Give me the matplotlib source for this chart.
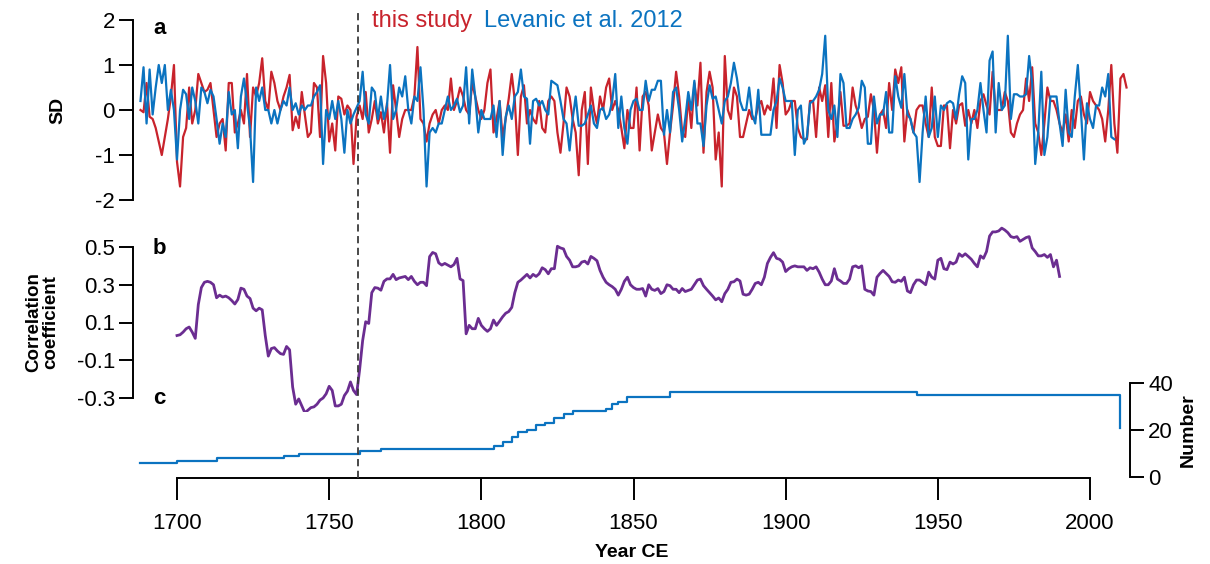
import numpy as np
import matplotlib
matplotlib.use("Agg")
import matplotlib.pyplot as plt

plt.rcParams['font.family'] = ['Liberation Sans', 'DejaVu Sans']
plt.rcParams['axes.unicode_minus'] = False

# ---------------- data ----------------
red_start = 1688
red_sd = [  # this study, 1688-2012
    0.0, -0.05, 0.6, -0.15, -0.2, -0.4, -0.7, -1.0, -0.6, -0.2, 0.3, 1.0,          # 1688-1699
    -1.15, -1.7, -0.6, -0.4, 0.5, -0.3, 0.0, 0.8, 0.6, 0.4,                         # 1700-1709
    0.45, 0.6, 0.0, -0.6, -0.3, -0.2, -0.9, 0.6, 0.6, -0.5,                          # 1710-1719
    -0.3, 0.0, -0.3, 0.8, -0.6, 0.5, 0.3, 0.6, 1.15, 0.2,                            # 1720-1729
    0.0, 0.85, 0.6, 0.2, 0.0, 0.3, 0.5, 0.78, -0.45, -0.15,                          # 1730-1739
    -0.4, 0.4, -0.1, -0.6, -0.5, 0.6, 0.5, -0.6, 1.2, 0.6,                           # 1740-1749
    -0.7, -0.3, -0.9, 0.3, 0.25, -0.1, 0.1, 0.0, -1.2, -0.15,                        # 1750-1759
    0.1, -0.2, 0.4, -0.5, -0.2, 0.2, -0.3, -0.05, -0.5, 0.15,                        # 1760-1769
    -0.95, 0.55, 0.0, -0.6, -0.2, 0.0, 0.0, 0.0, 0.3, 1.4,                           # 1770-1779
    -0.2, -0.3, -0.7, -0.3, -0.1, 0.0, -0.3, 0.0, 0.1, 0.0,                          # 1780-1789
    0.7, 0.0, 0.2, 0.5, 0.3, 0.0, -0.1, 0.6, 0.3, 0.0,                               # 1790-1799
    -0.2, 0.0, 0.6, 0.9, -0.5, -0.2, 0.2, -0.6, -0.2, 0.25,                          # 1800-1809
    0.8, 0.2, -1.0, 0.3, 0.55, -0.3, 0.0, -0.2, -0.3, 0.2,                           # 1810-1819
    -0.4, -0.5, 0.2, 0.3, 0.2, -0.5, -0.95, -0.3, 0.5, 0.3,                          # 1820-1829
    -0.2, -0.5, -1.45, 0.0, 0.4, -1.2, 0.5, 0.0, -0.3, 0.3,                          # 1830-1839
    0.0, 0.5, 0.7, 0.0, 0.2, 0.0, -0.4, -0.85, 0.0, -0.4,                            # 1840-1849
    -0.4, 0.5, -0.9, 0.3, 0.4, 0.1, -0.9, -0.5, -0.1, -0.4,                          # 1850-1859
    -0.5, -1.2, -0.5, 0.1, 0.85, 0.3, -0.5, -0.6, 0.3, -0.4,                         # 1860-1869
    0.6, 0.1, 1.05, -0.95, 0.4, 0.85, 0.5, -1.1, -0.5, -1.7,                         # 1870-1879
    1.2, 0.0, -0.2, 0.5, 0.3, -0.6, -0.6, -0.3, 0.0, -0.2,                           # 1880-1889
    -0.2, 0.1, 0.2, -0.1, 0.1, 0.0, 0.7, -0.4, 1.0, 0.6,                             # 1890-1899
    -0.1, 0.0, 0.2, 0.2, -0.4, -0.6, -0.65, -0.65, 0.2, 0.2,                         # 1900-1909
    -0.6, 0.5, 0.2, 0.55, -0.6, 0.6, -0.7, -0.3, 0.4, -0.35,                         # 1910-1919
    -0.35, -0.3, 0.5, 0.1, -0.1, -0.4, -0.2, -0.15, 0.35, 0.0,                       # 1920-1929
    -0.95, -0.1, 0.0, -0.4, 0.6, 0.0, 0.9, 0.6, 0.95, -0.7,                          # 1930-1939
    0.0, -0.2, -0.5, 0.0, 0.1, 0.1, -0.3, -0.6, 0.5, -0.6,                           # 1940-1949
    -0.8, -0.8, 0.1, 0.1, -0.85, 0.0, -0.3, 0.1, 0.15, -0.35,                        # 1950-1959
    0.0, -0.3, 0.0, -0.4, 0.2, 0.35, 0.1, -0.1, 0.85, 0.0,                           # 1960-1969
    0.0, 0.0, 0.4, 0.2, -0.5, -0.6, -0.3, -0.1, 0.0, 0.7,                            # 1970-1979
    0.2, 0.95, -0.3, -0.5, -1.0, -0.3, 0.5, 0.2, 0.2, 0.0,                           # 1980-1989
    -0.3, -0.5, -0.1, -0.7, 0.0, -0.4, 0.2, 0.3, -0.1, -0.3,                         # 1990-1999
    0.4, 0.2, 0.1, 0.0, -0.2, -0.7, 0.0, 1.0, -0.3, -0.95,                           # 2000-2009
    0.7, 0.8, 0.5,                                                                   # 2010-2012
]

blue_start = 1688
blue_sd = [  # Levanic et al. 2012, 1688-2008
    0.2, 0.95, -0.3, 0.9, -0.1, 0.5, 1.0, 0.6, 1.0, 0.0, 0.45, 0.0,                 # 1688-1699
    -1.1, 0.0, 0.45, 0.35, -0.2, 0.5, 0.2, -0.3, 0.5, 0.4,                           # 1700-1709
    0.15, 0.45, 0.3, -0.2, -0.75, -0.3, -0.6, 0.4, -0.1, 0.0,                        # 1710-1719
    -0.85, 0.3, 0.7, 0.15, -0.4, -1.6, 0.5, 0.2, 0.5, 0.0,                           # 1720-1729
    0.0, -0.3, 0.0, -0.3, 0.0, 0.2, 0.1, 0.5, 0.0, 0.15,                             # 1730-1739
    -0.1, 0.1, 0.0, 0.1, 0.1, 0.3, 0.4, 0.55, -1.2, 0.0,                             # 1740-1749
    -0.2, 0.2, -0.2, 0.2, -0.2, -0.95, 0.0, -0.3, -0.1, 0.05,                        # 1750-1759
    0.2, 0.85, -0.1, -0.3, 0.5, 0.4, -0.2, 0.3, -0.2, 0.1,                           # 1760-1769
    1.0, -0.2, 0.0, 0.5, 0.3, 0.75, 0.0, -0.3, 0.3, 0.2,                             # 1770-1779
    0.95, 0.0, -1.7, -0.5, -0.4, -0.5, -0.3, -0.3, 0.0, 0.3,                         # 1780-1789
    0.0, 0.1, 0.25, -0.05, 0.1, 0.95, -0.3, 0.9, 0.3, -0.5,                          # 1790-1799
    0.0, -0.2, -0.2, -0.2, 0.1, -0.6, 0.2, -1.0, -0.15, 0.1,                         # 1800-1809
    -0.2, 0.3, 0.4, 0.9, 0.3, 0.25, -0.75, 0.2, 0.25, 0.1,                           # 1810-1819
    0.2, 0.0, -0.1, 0.65, 0.6, 0.55, 0.2, -0.2, -0.3, -0.9,                          # 1820-1829
    -0.2, 0.3, -0.35, -0.35, -0.3, -0.1, 0.1, -0.3, -0.4, 0.0,                       # 1830-1839
    0.05, -0.2, -0.1, 0.2, 0.8, -0.4, 0.3, -0.4, -0.75, 0.0,                         # 1840-1849
    0.2, 0.25, 0.0, 0.0, 0.65, 0.2, 0.45, 0.45, 0.65, 0.65,                          # 1850-1859
    -0.55, 0.0, -0.5, 0.4, 0.5, 0.0, -0.7, -0.2, 0.4, 0.0,                           # 1860-1869
    0.65, -0.3, -0.3, -0.8, 0.1, 0.55, 0.25, 0.3, 0.0, -0.3,                         # 1870-1879
    0.2, 0.3, 0.6, 1.05, 0.7, 0.2, 0.0, 0.0, 0.5, -0.1,                              # 1880-1889
    -0.3, 0.45, -0.55, -0.55, -0.55, -0.55, 0.0, 0.2, 0.7, 0.5,                      # 1890-1899
    0.2, 0.2, 0.2, -1.0, 0.0, 0.1, -0.75, -0.6, 0.15, 0.2,                           # 1900-1909
    0.3, 0.45, 0.8, 1.65, 0.0, -0.2, 0.1, -0.6, 0.8, 0.6,                            # 1910-1919
    -0.4, -0.4, -0.2, -0.1, 0.05, 0.65, 0.5, -0.75, -0.75, 0.3,                      # 1920-1929
    -0.3, -0.1, -0.1, 0.4, -0.5, -0.5, 0.75, 0.3, 0.05, 0.8,                         # 1930-1939
    -0.1, -0.2, -0.5, -0.6, -1.6, -0.5, 0.3, -0.6, -0.4, 0.3,                        # 1940-1949
    -0.6, 0.1, 0.0, 0.15, 0.2, 0.15, -0.2, 0.35, 0.75, 0.6,                          # 1950-1959
    -1.1, -0.2, -0.2, 0.0, 0.6, 0.0, -0.5, 1.1, 1.3, -0.5,                           # 1960-1969
    0.6, 0.0, 0.1, 1.65, -0.2, 0.35, 0.35, 0.3, 0.3, 0.35,                           # 1970-1979
    1.2, 0.6, -1.2, -0.5, 0.85, -1.0, -0.6, 0.3, 0.3, 0.3,                           # 1980-1989
    -0.3, -0.8, 0.45, -0.5, -0.6, 0.3, 1.0, 0.0, -1.1, 0.15,                         # 1990-1999
    -0.2, -0.4, 0.1, 0.1, 0.5, 0.3, 0.8, -0.6, -0.65,                                # 2000-2008
]

corr_start = 1700
corr = [  # running correlation, 1700-1990
    0.031, 0.035, 0.049, 0.067, 0.076, 0.049, 0.016, 0.195, 0.285, 0.313,           # 1700-1709
    0.318, 0.313, 0.30, 0.231, 0.245, 0.235, 0.24, 0.231, 0.216, 0.198,              # 1710-1719
    0.222, 0.282, 0.276, 0.24, 0.227, 0.176, 0.162, 0.176, 0.167, 0.031,             # 1720-1729
    -0.078, -0.038, -0.033, -0.051, -0.065, -0.069, -0.027, -0.045, -0.242, -0.333,  # 1730-1739
    -0.305, -0.342, -0.378, -0.365, -0.351, -0.347, -0.333, -0.311, -0.30, -0.278,   # 1740-1749
    -0.238, -0.26, -0.342, -0.342, -0.333, -0.287, -0.264, -0.215, -0.26, -0.282,    # 1750-1759
    -0.151, 0.004, 0.104, 0.095, 0.258, 0.285, 0.282, 0.271, 0.318, 0.331,           # 1760-1769
    0.331, 0.355, 0.327, 0.336, 0.34, 0.344, 0.327, 0.344, 0.318, 0.30,              # 1770-1779
    0.313, 0.313, 0.295, 0.449, 0.471, 0.464, 0.416, 0.404, 0.413, 0.404,            # 1780-1789
    0.395, 0.407, 0.44, 0.331, 0.322, 0.04, 0.085, 0.067, 0.067, 0.122,              # 1790-1799
    0.085, 0.067, 0.053, 0.067, 0.113, 0.085, 0.107, 0.13, 0.149, 0.158,             # 1800-1809
    0.18, 0.258, 0.313, 0.325, 0.34, 0.355, 0.336, 0.355, 0.344, 0.358,              # 1810-1819
    0.39, 0.38, 0.358, 0.385, 0.385, 0.504, 0.495, 0.49, 0.45, 0.43,                 # 1820-1829
    0.395, 0.395, 0.40, 0.42, 0.425, 0.41, 0.45, 0.44, 0.427, 0.376,                 # 1830-1839
    0.34, 0.313, 0.30, 0.29, 0.276, 0.245, 0.276, 0.318, 0.34, 0.30,                 # 1840-1849
    0.285, 0.276, 0.276, 0.28, 0.24, 0.30, 0.276, 0.27, 0.28, 0.253,                 # 1850-1859
    0.264, 0.30, 0.295, 0.276, 0.276, 0.258, 0.28, 0.264, 0.27, 0.276,               # 1860-1869
    0.30, 0.325, 0.33, 0.295, 0.276, 0.258, 0.24, 0.22, 0.23, 0.21,                  # 1870-1879
    0.253, 0.276, 0.313, 0.316, 0.33, 0.32, 0.25, 0.245, 0.25, 0.276,                # 1880-1889
    0.307, 0.313, 0.30, 0.34, 0.413, 0.445, 0.47, 0.44, 0.435, 0.42,                 # 1890-1899
    0.37, 0.385, 0.395, 0.40, 0.395, 0.395, 0.395, 0.376, 0.39, 0.385,               # 1900-1909
    0.395, 0.367, 0.33, 0.30, 0.30, 0.32, 0.385, 0.33, 0.32, 0.307,                  # 1910-1919
    0.307, 0.33, 0.395, 0.40, 0.39, 0.40, 0.276, 0.267, 0.264, 0.245,                # 1920-1929
    0.34, 0.36, 0.376, 0.36, 0.344, 0.316, 0.313, 0.325, 0.318, 0.34,                # 1930-1939
    0.267, 0.258, 0.30, 0.325, 0.325, 0.313, 0.30, 0.367, 0.34, 0.33,                # 1940-1949
    0.43, 0.44, 0.385, 0.38, 0.42, 0.41, 0.42, 0.464, 0.45, 0.464,                   # 1950-1959
    0.45, 0.435, 0.413, 0.395, 0.453, 0.44, 0.476, 0.558, 0.58, 0.58,                # 1960-1969
    0.585, 0.60, 0.59, 0.576, 0.555, 0.55, 0.555, 0.53, 0.54, 0.55,                  # 1970-1979
    0.555, 0.495, 0.476, 0.453, 0.453, 0.46, 0.445, 0.46, 0.395, 0.43,               # 1980-1989
    0.344,                                                                           # 1990
]

number_years = [1688, 1700, 1713, 1735, 1740, 1760, 1767, 1804, 1807, 1810, 1812, 1815,
                1818, 1821, 1824, 1827, 1830, 1841, 1843, 1845, 1848, 1862, 1943, 2009, 2010]
number_vals = [6, 7, 8, 9, 10, 11, 12, 13, 15, 17, 19, 20,
               22, 23, 25, 27, 28, 29, 31, 32, 34, 36, 35, 35, 21]

xticks = [1700, 1750, 1800, 1850, 1900, 1950, 2000]
sd_ticks = [-2, -1, 0, 1, 2]
corr_ticks = [-0.3, -0.1, 0.1, 0.3, 0.5]
corr_labels = ["-0.3", "-0.1", "0.1", "0.3", "0.5"]
num_ticks = [0, 20, 40]
event_year = 1759.5

RED = '#C8232C'
BLUE = '#0B73C0'
PURPLE = '#6B2D91'

# ---------------- layout ----------------
W, H = 1210, 564
fig = plt.figure(figsize=(W / 100, H / 100), dpi=100)

px_per_year = (1090 - 177) / 300.0
XL, XR = 133, 1130
xlim = (1700 + (XL - 177) / px_per_year, 1700 + (XR - 177) / px_per_year)


def add_ax(ytop, ybot):
    ax = fig.add_axes([XL / W, 1 - ybot / H, (XR - XL) / W, (ybot - ytop) / H])
    ax.set_xlim(*xlim)
    ax.patch.set_alpha(0)
    for s in ax.spines.values():
        s.set_visible(False)
    ax.set_xticks([])
    return ax


SPW = 1.4
TICKKW = dict(length=10, width=SPW, direction='out', labelsize=16, pad=3, color='black')

# panel a
axa = add_ax(20, 200)
axa.set_ylim(-2, 2)
axa.plot(np.arange(red_start, red_start + len(red_sd)), red_sd, color=RED, lw=1.6)
axa.plot(np.arange(blue_start, blue_start + len(blue_sd)), blue_sd, color=BLUE, lw=1.6)
axa.spines['left'].set_visible(True)
axa.spines['left'].set_linewidth(SPW)
axa.spines['left'].set_bounds(-2, 2)
axa.set_yticks(sd_ticks)
axa.set_yticklabels([str(t) for t in sd_ticks])
axa.tick_params(axis='y', **TICKKW)

# panel b
pxu = (398 - 247) / 0.8
axb = add_ax(220, 412)
axb.set_ylim(-0.3 - (412 - 398) / pxu, 0.5 + (247 - 220) / pxu)
axb.plot(np.arange(corr_start, corr_start + len(corr)), corr, color=PURPLE, lw=2.0)
axb.spines['left'].set_visible(True)
axb.spines['left'].set_linewidth(SPW)
axb.spines['left'].set_bounds(-0.3, 0.5)
axb.set_yticks(corr_ticks)
axb.set_yticklabels(corr_labels)
axb.tick_params(axis='y', **TICKKW)

# panel c
axc = add_ax(383, 477)
axc.set_ylim(0, 40)
axc.plot(number_years, number_vals, color=BLUE, lw=1.6, drawstyle='steps-post')
axc.spines['right'].set_visible(True)
axc.spines['right'].set_linewidth(SPW)
axc.spines['right'].set_bounds(0, 40)
axc.yaxis.tick_right()
axc.set_yticks(num_ticks)
axc.set_yticklabels([str(t) for t in num_ticks])
axc.tick_params(axis='y', **TICKKW)
axc.spines['bottom'].set_visible(True)
axc.spines['bottom'].set_linewidth(SPW)
axc.spines['bottom'].set_bounds(xticks[0], xticks[-1])
axc.spines['bottom'].set_position(('outward', 1))
axc.set_xticks(xticks)
axc.set_xticklabels([str(t) for t in xticks])
axc.tick_params(axis='x', length=16, width=SPW, direction='out', labelsize=16, pad=9)
axc.set_xlabel('Year CE', fontsize=14, fontweight='bold', labelpad=7)

# dashed event line across panels
axv = add_ax(10, 478)
axv.set_ylim(0, 1)
axv.set_yticks([])
axv.axvline(event_year, color='#3a3a3a', lw=1.3, ls=(0, (4, 2.5)))

# labels
fig.text(58 / W, 1 - 110 / H, 'SD', rotation=90, fontsize=14, fontweight='bold',
         ha='center', va='center')
fig.text(42 / W, 1 - 322 / H, 'Correlation\ncoefficient', rotation=90, fontsize=13.5,
         fontweight='bold', ha='center', va='center', linespacing=1.0)
fig.text(1188 / W, 1 - 430 / H, 'Number', rotation=90, fontsize=14, fontweight='bold',
         ha='center', va='center')

for lab, (x, y) in zip(['a', 'b', 'c'], [(153, 28), (153, 248), (153, 398)]):
    fig.text(x / W, 1 - y / H, lab, fontsize=16, fontweight='bold', ha='left', va='center')

fig.text(372 / W, 1 - 21 / H, 'this study', color=RED, fontsize=17, ha='left', va='center')
fig.text(484 / W, 1 - 21 / H, 'Levanic et al. 2012', color=BLUE, fontsize=17,
         ha='left', va='center')

fig.savefig('out.png', dpi=100)
